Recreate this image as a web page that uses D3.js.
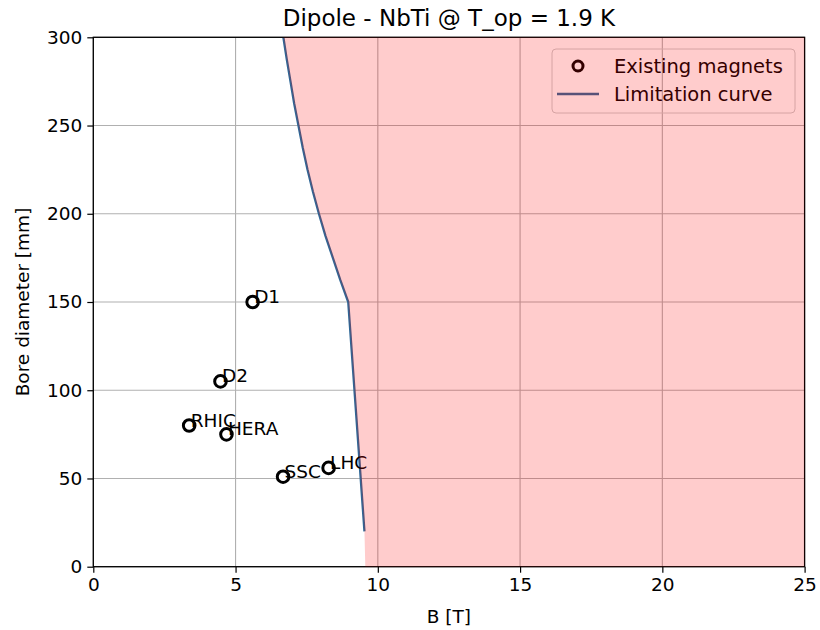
<!DOCTYPE html>
<html>
<head>
<meta charset="utf-8">
<script src="https://cdn.jsdelivr.net/npm/d3@7"></script>
<style>
  html, body { margin: 0; padding: 0; background: #ffffff; }
  svg { display: block; font-family: "DejaVu Sans", sans-serif; }
</style>
</head>
<body>
<svg id="chart" width="820" height="630"></svg>
<script>
// ---- data ----
const magnetNames = ["D1", "D2", "RHIC", "HERA", "SSC", "LHC"];
const magnetB = [5.6, 4.47, 3.37, 4.68, 6.67, 8.27];
const magnetBore = [150, 105, 80, 75, 51, 56];

const limitB = [6.68, 6.80, 6.93, 7.06, 7.21, 7.36, 7.53, 7.72, 7.93, 8.16, 8.42, 8.68, 8.96, 9.53];
const limitBore = [300, 287.5, 275, 262.5, 250, 237.5, 225, 212.5, 200, 187.5, 175, 162.5, 150, 20];

// fill boundary continues the limitation curve down to 0 mm
const fillEdgeB = [6.68, 6.80, 6.93, 7.06, 7.21, 7.36, 7.53, 7.72, 7.93, 8.16, 8.42, 8.68, 8.96, 9.53, 9.56];
const fillEdgeBore = [300, 287.5, 275, 262.5, 250, 237.5, 225, 212.5, 200, 187.5, 175, 162.5, 150, 20, 0];

const xTicks = [0, 5, 10, 15, 20, 25];
const yTicks = [0, 50, 100, 150, 200, 250, 300];
const xDomain = [0, 25];
const yDomain = [0, 300];

const titleText = "Dipole - NbTi @ T_op = 1.9 K";
const xLabelText = "B [T]";
const yLabelText = "Bore diameter [mm]";
const legendLabels = ["Existing magnets", "Limitation curve"];

// ---- layout ----
const L = 93.3, R = 804.6, T = 37.3, B = 566.7;
const svg = d3.select("#chart");
const x = d3.scaleLinear().domain(xDomain).range([L, R]);
const y = d3.scaleLinear().domain(yDomain).range([B, T]);

svg.append("defs").append("clipPath").attr("id", "plotclip")
  .append("rect").attr("x", L).attr("y", T).attr("width", R - L).attr("height", B - T);

const tickFont = 18.5;

// grid
const grid = svg.append("g");
grid.selectAll(".gx").data(xTicks).enter().append("line")
  .attr("x1", d => x(d)).attr("x2", d => x(d)).attr("y1", T).attr("y2", B)
  .attr("stroke", "#b0b0b0").attr("stroke-width", 1.1);
grid.selectAll(".gy").data(yTicks).enter().append("line")
  .attr("y1", d => y(d)).attr("y2", d => y(d)).attr("x1", L).attr("x2", R)
  .attr("stroke", "#b0b0b0").attr("stroke-width", 1.1);

// axes with ticks and labels
const xAxis = d3.axisBottom(x).tickValues(xTicks).tickFormat(d3.format("d")).tickSize(6).tickPadding(5);
const yAxis = d3.axisLeft(y).tickValues(yTicks).tickFormat(d3.format("d")).tickSize(6).tickPadding(5);
const gx = svg.append("g").attr("transform", `translate(0,${B})`).call(xAxis);
const gy = svg.append("g").attr("transform", `translate(${L},0)`).call(yAxis);
[gx, gy].forEach(g => {
  g.select(".domain").remove();
  g.selectAll(".tick line").attr("stroke", "#000").attr("stroke-width", 1.2);
  g.selectAll(".tick text").attr("fill", "#000").style("font-size", tickFont + "px")
    .style("font-family", "DejaVu Sans, sans-serif");
});

// limitation curve
const plot = svg.append("g").attr("clip-path", "url(#plotclip)");
const curvePts = limitB.map((b, i) => [b, limitBore[i]]);
plot.append("path")
  .attr("d", d3.line().x(d => x(d[0])).y(d => y(d[1]))(curvePts))
  .attr("fill", "none").attr("stroke", "#2f6796").attr("stroke-width", 2.3)
  .attr("stroke-linejoin", "round");

// existing magnets
const mags = magnetNames.map((n, i) => ({ n, b: magnetB[i], d: magnetBore[i] }));
plot.selectAll(".mk").data(mags).enter().append("circle")
  .attr("cx", d => x(d.b)).attr("cy", d => y(d.d)).attr("r", 5.8)
  .attr("fill", "#ffffff").attr("stroke", "#000").attr("stroke-width", 3);
svg.selectAll(".ml").data(mags).enter().append("text")
  .attr("x", d => x(d.b) + 1.5).attr("y", d => y(d.d) + 1)
  .style("font-size", "18.5px").attr("fill", "#000").text(d => d.n);

// legend
const lg = svg.append("g");
lg.append("rect").attr("x", 552).attr("y", 49).attr("width", 243).attr("height", 64)
  .attr("rx", 4).attr("fill", "none").attr("stroke", "#cccccc").attr("stroke-width", 1);
lg.append("circle").attr("cx", 578).attr("cy", 66).attr("r", 5)
  .attr("fill", "#ffffff").attr("stroke", "#000").attr("stroke-width", 3);
lg.append("line").attr("x1", 557).attr("x2", 599).attr("y1", 94).attr("y2", 94)
  .attr("stroke", "#2f6796").attr("stroke-width", 2.3);
lg.selectAll(".lt").data(legendLabels).enter().append("text")
  .attr("x", 614).attr("y", (d, i) => 73 + i * 28)
  .style("font-size", "19.5px").attr("fill", "#000").text(d => d);

// frame
svg.append("rect").attr("x", L).attr("y", T).attr("width", R - L).attr("height", B - T)
  .attr("fill", "none").attr("stroke", "#000").attr("stroke-width", 1.3);

// forbidden region (red, translucent, drawn on top)
const fillPts = fillEdgeB.map((b, i) => [b, fillEdgeBore[i]]);
svg.append("path").attr("clip-path", "url(#plotclip)")
  .attr("d", d3.area().y(d => y(d[1])).x0(d => x(d[0])).x1(() => x(xDomain[1]))(fillPts))
  .attr("fill", "red").attr("fill-opacity", 0.2).attr("stroke", "none");

// titles
svg.append("text").attr("x", (L + R) / 2).attr("y", 26).attr("text-anchor", "middle")
  .style("font-size", "23px").attr("fill", "#000").text(titleText);
svg.append("text").attr("x", (L + R) / 2).attr("y", 623).attr("text-anchor", "middle")
  .style("font-size", "18.5px").attr("fill", "#000").text(xLabelText);
svg.append("text").attr("transform", `translate(29,${(T + B) / 2}) rotate(-90)`)
  .attr("text-anchor", "middle").style("font-size", "18.5px").attr("fill", "#000").text(yLabelText);
</script>
</body>
</html>
